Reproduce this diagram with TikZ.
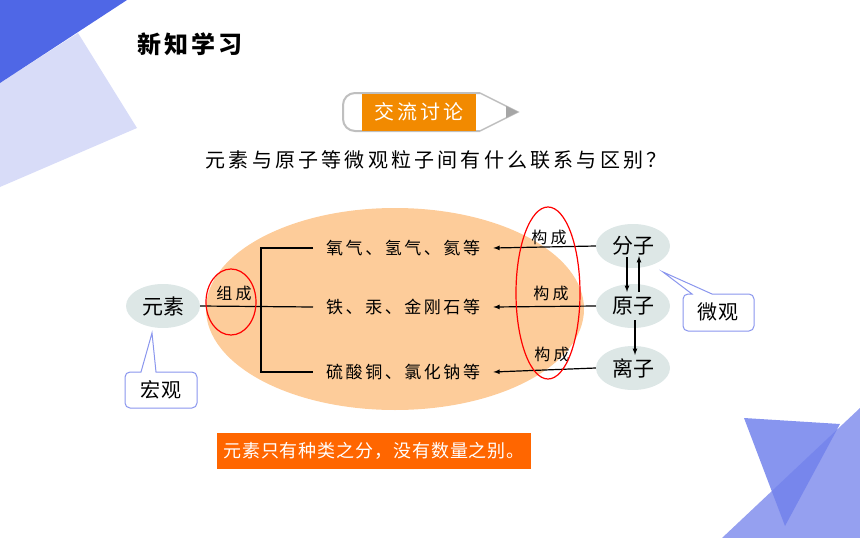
\documentclass[tikz,border=0pt]{standalone}
\usepackage{fontspec}
\setmainfont{Noto Sans CJK SC}
\usetikzlibrary{shapes,arrows,calc}
\definecolor{deepblue}{HTML}{4F67E6}
\definecolor{paleblue}{HTML}{D8DCF8}
\definecolor{midblue}{HTML}{95A0F0}
\definecolor{darkblue}{HTML}{7282EC}
\definecolor{peach}{HTML}{FDCC9A}
\definecolor{ballgray}{HTML}{DDE7E6}
\definecolor{calloutblue}{HTML}{8A96EE}
\definecolor{badgeorange}{HTML}{F28A00}
\definecolor{bannerorange}{HTML}{FF6600}

\begin{document}
\begin{tikzpicture}[x=1pt,y=-1pt,
  ball/.style={ellipse,fill=ballgray,minimum width=74pt,minimum height=44pt,inner sep=0pt,font=\fontsize{21}{24}\selectfont},
  item/.style={anchor=west,inner xsep=13pt,font=\fontsize{17}{20}\selectfont\addfontfeature{LetterSpace=15}},
  tag/.style={font=\fontsize{16}{19}\selectfont\addfontfeature{LetterSpace=20}},
  ring/.style={ellipse,draw=red,line width=1.2pt,inner sep=0pt},
  callout/.style={draw=calloutblue,fill=white,line width=1pt},
  link/.style={-latex,line width=1.2pt}]
\useasboundingbox (0,0) rectangle (860,538);

\fill[paleblue] (0,83) -- (78,33) -- (137,128) -- (0,187) -- cycle;
\fill[deepblue] (0,0) -- (127,0) -- (0,83) -- cycle;
\fill[midblue] (722,538) -- (860,408) -- (860,538) -- cycle;
\fill[darkblue,opacity=0.85] (744,418) -- (840,424) -- (785,526) -- cycle;

\node[anchor=west,font=\fontsize{24}{27}\selectfont\bfseries\addfontfeature{LetterSpace=12}] at (134,44) (title) {新知学习};

\draw[gray!50,line width=2pt,fill=white,rounded corners=12pt] (480,93) -- (343,93) -- (343,131) -- (480,131);
\draw[gray!50,line width=1.5pt,fill=white] (480,93) -- (518,112) -- (480,131);
\fill[gray!70] (506,106) -- (518,112) -- (506,118) -- cycle;
\node[fill=badgeorange,text=white,minimum width=114pt,minimum height=37pt,font=\fontsize{20}{23}\selectfont\addfontfeature{LetterSpace=15}] at (419,112) (badge) {交流讨论};

\node[font=\fontsize{20}{24}\selectfont\addfontfeature{LetterSpace=16}] at (436,160) (question) {元素与原子等微观粒子间有什么联系与区别？};

\fill[peach] (395,309) ellipse [x radius=189, y radius=101];

\node[ball] at (163,306) (yuansu) {元素};
\node[ball] at (633,246) (fenzi) {分子};
\node[ball] at (633,306) (yuanzi) {原子};
\node[ball] at (633,368) (lizi) {离子};

\node[item] at (313,248) (wuzhi1) {氧气、氢气、氦等};
\node[item] at (313,307) (wuzhi2) {铁、汞、金刚石等};
\node[item] at (313,372) (wuzhi3) {硫酸铜、氯化钠等};

\coordinate (bt) at (261,248);
\coordinate (bb) at (261,372);
\draw[line width=1.2pt] (yuansu.east) -- (wuzhi2.west);
\draw[line width=1.2pt] (wuzhi1.west) -- (bt) -- (bb) -- (wuzhi3.west);

\node[tag] at (234,293) (zucheng) {组成};
\node[ring,minimum width=50pt,minimum height=66pt] at (231,302) (ring1) {};

\draw[link] (fenzi.west) -- (wuzhi1.east);
\draw[link] (yuanzi.west) -- (wuzhi2.east);
\draw[link] (lizi.west) -- (wuzhi3.east);

\draw[link] ([xshift=-6pt,yshift=-11pt]fenzi.center) -- ([xshift=-6pt,yshift=14pt]yuanzi.center);
\draw[link] ([xshift=6pt,yshift=14pt]yuanzi.center) -- ([xshift=6pt,yshift=-10pt]fenzi.center);
\draw[link] ([xshift=2pt,yshift=-14pt]yuanzi.center) -- ([xshift=2pt,yshift=13pt]lizi.center);

\node[tag] at (549,237) (goucheng1) {构成};
\node[tag] at (551,293) (goucheng2) {构成};
\node[tag] at (552,354) (goucheng3) {构成};
\node[ring,minimum width=64pt,minimum height=172pt] at (548,293) (ring2) {};

\draw[callout] [rounded corners=5pt] (125,390) -- (125,372) [sharp corners] -- (141,372) -- (152,333) -- (156,372) [rounded corners=5pt] -- (197,372) -- (197,408) -- (125,408) -- cycle;
\node[font=\fontsize{20}{23}\selectfont\addfontfeature{LetterSpace=8}] at (161,390) (hongguan) {宏观};

\draw[callout] [rounded corners=5pt] (683,312) -- (683,294) [sharp corners] -- (692,294) -- (663,272) -- (712,294) [rounded corners=5pt] -- (754,294) -- (754,331) -- (683,331) -- cycle;
\node[font=\fontsize{20}{23}\selectfont\addfontfeature{LetterSpace=8}] at (718,312) (weiguan) {微观};

\node[fill=bannerorange,text=white,minimum width=314pt,minimum height=36pt,font=\fontsize{18}{21}\selectfont\addfontfeature{LetterSpace=5}] at (374,451) (summary) {元素只有种类之分，没有数量之别。};
\end{tikzpicture}
\end{document}
